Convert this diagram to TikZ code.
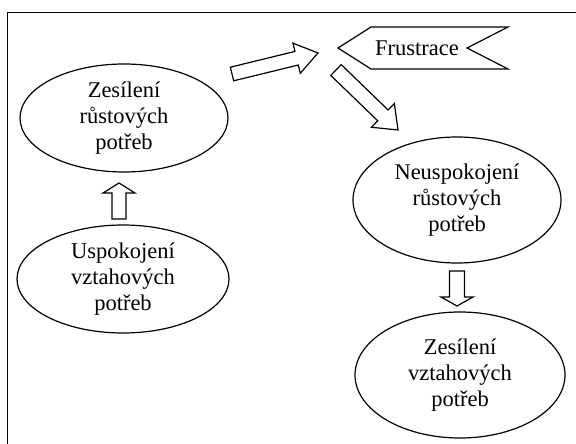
\documentclass[tikz,border=0pt]{standalone}
\usepackage{fontspec}
\setmainfont{Liberation Serif}
\usetikzlibrary{shapes.geometric,calc}
\tikzset{
  bub/.style={draw, ellipse, line width=1.2pt, inner sep=0pt, align=center,
    font=\fontsize{22.5}{26}\selectfont},
  blk/.style={draw, line width=1.2pt, line join=miter, fill=white},
  frameline/.style={line width=1.6pt},
  lbl/.style={font=\fontsize{22.5}{26}\selectfont, inner sep=0pt}
}
% tail, tip, shaft half width, head half width, head length
\newcommand{\blockarr}[5]{%
  \coordinate (hb) at ($(#2)!#5!(#1)$);
  \draw[blk] ($(#1)!#3!90:(#2)$) -- ($(hb)!#3!90:(#2)$) -- ($(hb)!#4!90:(#2)$)
    -- (#2) -- ($(hb)!#4!-90:(#2)$) -- ($(hb)!#3!-90:(#2)$)
    -- ($(#1)!#3!-90:(#2)$) -- cycle;
}
\begin{document}
\begin{tikzpicture}[x=1pt, y=-1pt]
  \useasboundingbox (0,0) rectangle (576,444);
  % frame (top and left edges only visible)
  \draw[frameline] (7.5,444) -- (7.5,12.5) -- (576,12.5);

  % ellipses
  \node[bub, minimum width=208pt, minimum height=108pt] (zr) at (124,118)
    {Zesílení\\růstových\\potřeb};
  \node[bub, minimum width=212pt, minimum height=108pt] (uv) at (123,279)
    {Uspokojení\\vztahových\\potřeb};
  \node[bub, minimum width=208pt, minimum height=126pt] (nr) at (457,200)
    {Neuspokojení\\růstových\\potřeb};
  \node[bub, minimum width=210pt, minimum height=126pt] (zv) at (460,375)
    {Zesílení\\vztahových\\potřeb};

  % Frustrace banner
  \draw[blk] (338,48) -- (371,27) -- (508,27) -- (467,48) -- (508,69)
    -- (371,69) -- cycle;
  \node[lbl] (fr) at (417,48) {Frustrace};

  % block arrow end points
  \coordinate (a1t) at (119,219);
  \coordinate (a1h) at (119,183);
  \coordinate (a2t) at (232,74);
  \coordinate (a2h) at (318,53);
  \coordinate (a3t) at (336,70);
  \coordinate (a3h) at (398,130);
  \coordinate (a4t) at (457,271);
  \coordinate (a4h) at (457,306);

  \blockarr{a1t}{a1h}{7pt}{16pt}{10pt}
  \blockarr{a2t}{a2h}{7pt}{15.5pt}{22pt}
  \blockarr{a3t}{a3h}{7.5pt}{16.5pt}{21pt}
  \blockarr{a4t}{a4h}{7.5pt}{16pt}{9pt}
\end{tikzpicture}
\end{document}
